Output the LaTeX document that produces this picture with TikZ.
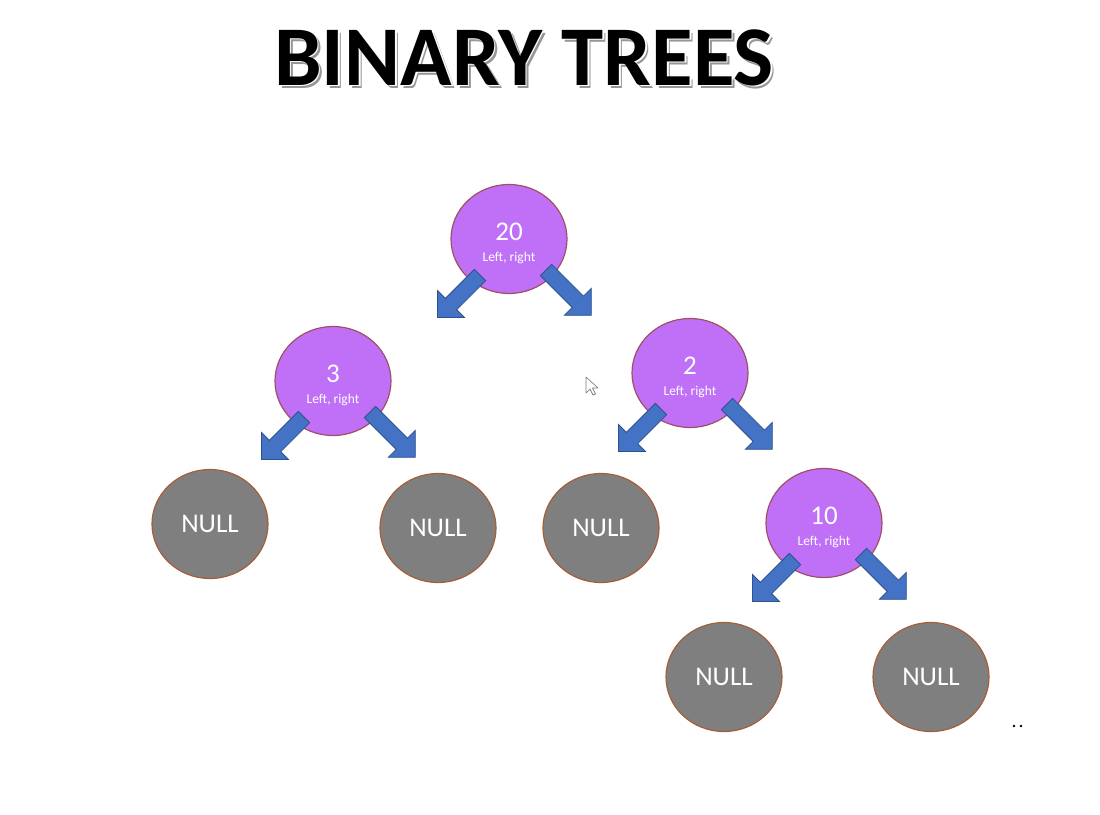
\documentclass[tikz,border=0pt]{standalone}
\usepackage{fontspec}
\setmainfont{Carlito}
\usetikzlibrary{calc,shapes.geometric}
\definecolor{purp}{RGB}{191,112,246}
\definecolor{purpedge}{RGB}{160,80,100}
\definecolor{nullgrey}{RGB}{127,127,127}
\definecolor{nulledge}{RGB}{165,95,55}
\definecolor{arrfill}{RGB}{68,114,196}
\definecolor{arredge}{RGB}{47,82,143}
\definecolor{shadowgrey}{RGB}{150,150,150}
\newcommand{\shadowtitle}[1]{%
  \makebox[0pt][l]{\hspace{3pt}\raisebox{-3pt}{\color{shadowgrey}#1}}%
  \makebox[0pt][l]{\hspace{1.5pt}\raisebox{-1.5pt}{\color{white}#1}}%
  {\color{black}#1}}
\tikzset{
  x=1pt, y=-1pt,
  tnode/.style={ellipse, minimum width=116pt, minimum height=109pt, inner sep=0pt, line width=1.2pt},
  valnode/.style={tnode, fill=purp, draw=purpedge},
  nullnode/.style={tnode, fill=nullgrey, draw=nulledge, text=white, font=\fontsize{27}{29}\selectfont},
  numtext/.style={text=white, inner sep=0pt, font=\fontsize{27}{30}\selectfont},
  lrtext/.style={text=white, inner sep=0pt, font=\fontsize{13.5}{15}\selectfont},
  titletext/.style={inner sep=0pt, font=\fontsize{85}{92}\selectfont\bfseries},
  arrowbody/.style={fill=arrfill, draw=arredge, line width=0.8pt, line join=miter},
  pics/barrow/.style={code={
    \path[arrowbody] (0,-8) -- ({#1-19},-8) -- ({#1-19},-19) -- (#1,0) -- ({#1-19},19) -- ({#1-19},8) -- (0,8) -- cycle;
  }},
}
\begin{document}
\begin{tikzpicture}
\useasboundingbox[fill=white] (0,0) rectangle (1100,814);

% title (with its shadow, one text)
\node[titletext] (title) at (524,59) {\shadowtitle{BINARY TREES}};

% nodes
\node[valnode] (n20) at (509,239) {};
\node[valnode] (n3) at (333,381) {};
\node[valnode] (n2) at (690,373) {};
\node[valnode] (n10) at (824,523) {};
\node[nullnode] (null1) at (210,524) {NULL};
\node[nullnode] (null2) at (438,528) {NULL};
\node[nullnode] (null3) at (601,528) {NULL};
\node[nullnode] (null4) at (724,677) {NULL};
\node[nullnode] (null5) at (931,677) {NULL};

% labels inside value nodes
\foreach \n/\v in {n20/20, n3/3, n2/2, n10/10}{
  \node[numtext] (\n-num) at ($(\n)+(0,-7)$) {\v};
  \node[lrtext] (\n-lr) at ($(\n)+(0,19)$) {Left, right};
}

% block arrows
\foreach \n in {n20, n3, n2, n10}{
  \pic[rotate=225] at ($(\n)+(-29,36)$) {barrow=60};
  \pic[rotate=-45] at ($(\n)+(37,31)$) {barrow=64};
}

% mouse cursor
\coordinate (cursor) at (586,377);
\draw[fill=white, draw=gray, line width=0.7pt, line join=round]
  (cursor) -- ++(0,16) -- ++(4,-4) -- ++(3,6) -- ++(2.5,-1) -- ++(-3,-6) -- ++(5.5,0) -- cycle;

% dots
\fill[black] (1014,726) circle (1.3);
\fill[black] (1021,726) circle (1.3);
\end{tikzpicture}
\end{document}
